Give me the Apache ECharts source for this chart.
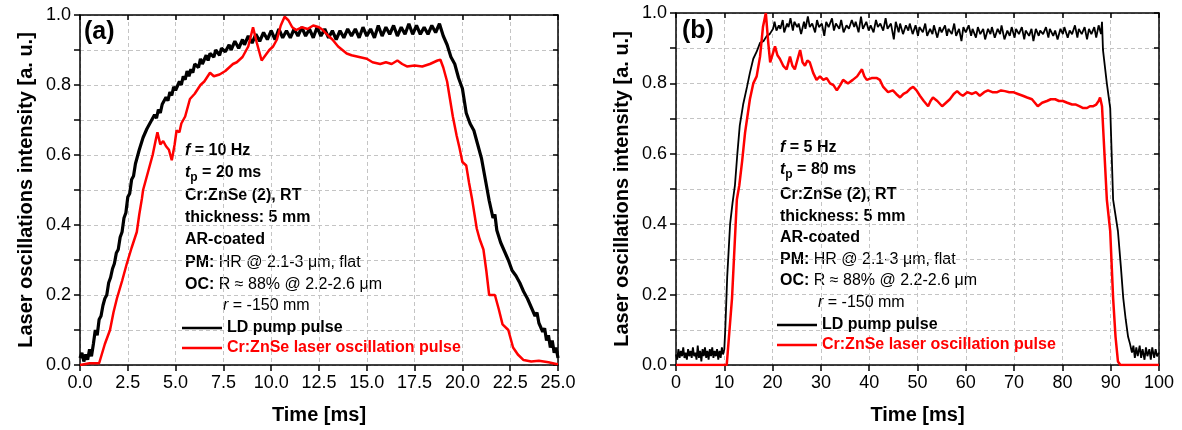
<!DOCTYPE html>
<html>
<head>
<meta charset="utf-8">
<title>Laser oscillation pulses</title>
<script src="https://cdn.jsdelivr.net/npm/echarts@6/dist/echarts.min.js"></script>
<style>
  html, body { margin: 0; padding: 0; background: #fff; }
  #chart { width: 1182px; height: 430px; }
</style>
</head>
<body>
<div id="chart"></div>
<script>
// ---- data: [time ms, intensity a.u.] ----
// (a) f = 10 Hz, tp = 20 ms
const pumpA = [
  [0, 0.02], [0.1, 0.035], [0.2, 0.01], [0.3, 0.03], [0.4, 0.015], [0.5, 0.045], [0.6, 0.025], [0.7, 0.06],
  [0.8, 0.1], [0.9, 0.085], [1.0, 0.13], [1.1, 0.14], [1.2, 0.17], [1.3, 0.19], [1.4, 0.2], [1.5, 0.235],
  [1.6, 0.25], [1.7, 0.275], [1.8, 0.29], [1.9, 0.32], [2.0, 0.33], [2.1, 0.365], [2.2, 0.38], [2.3, 0.42],
  [2.4, 0.435], [2.5, 0.48], [2.6, 0.49], [2.7, 0.53], [2.8, 0.54], [2.9, 0.575], [3.0, 0.58], [3.1, 0.615],
  [3.2, 0.62], [3.3, 0.65], [3.4, 0.645], [3.5, 0.675], [3.6, 0.67], [3.7, 0.695], [3.8, 0.69], [3.9, 0.715],
  [4.0, 0.705], [4.1, 0.73], [4.2, 0.72], [4.3, 0.745], [4.4, 0.74], [4.5, 0.765], [4.6, 0.755], [4.7, 0.78],
  [4.8, 0.77], [4.9, 0.795], [5.0, 0.785], [5.2, 0.81], [5.3, 0.8], [5.4, 0.825], [5.5, 0.815], [5.6, 0.84],
  [5.7, 0.825], [5.8, 0.845], [5.9, 0.835], [6.0, 0.86], [6.2, 0.85], [6.3, 0.875], [6.4, 0.86], [6.6, 0.885],
  [6.7, 0.87], [6.8, 0.89], [7.0, 0.88], [7.1, 0.9], [7.3, 0.885], [7.4, 0.905], [7.6, 0.895], [7.8, 0.915],
  [7.9, 0.9], [8.1, 0.925], [8.3, 0.905], [8.5, 0.93], [8.6, 0.915], [8.8, 0.94], [9.0, 0.92], [9.2, 0.945],
  [9.4, 0.925], [9.6, 0.95], [9.8, 0.93], [10.0, 0.955], [10.2, 0.93], [10.4, 0.96], [10.6, 0.935], [10.8, 0.955],
  [11.0, 0.935], [11.2, 0.96], [11.4, 0.94], [11.6, 0.965], [11.8, 0.94], [12.0, 0.96], [12.2, 0.935], [12.4, 0.965],
  [12.6, 0.94], [12.8, 0.96], [13.0, 0.935], [13.2, 0.955], [13.4, 0.93], [13.6, 0.955], [13.8, 0.935], [14.0, 0.96],
  [14.2, 0.94], [14.4, 0.96], [14.6, 0.935], [14.8, 0.965], [15.0, 0.94], [15.2, 0.96], [15.4, 0.935], [15.6, 0.97],
  [15.8, 0.94], [16.0, 0.965], [16.2, 0.945], [16.4, 0.97], [16.6, 0.94], [16.8, 0.965], [17.0, 0.945], [17.2, 0.975],
  [17.4, 0.945], [17.6, 0.97], [17.8, 0.945], [18.0, 0.965], [18.2, 0.945], [18.4, 0.97], [18.6, 0.95], [18.8, 0.975],
  [19.0, 0.94], [19.2, 0.915], [19.4, 0.88], [19.6, 0.86], [19.8, 0.82], [20.0, 0.79], [20.2, 0.72], [20.4, 0.69],
  [20.6, 0.67], [20.8, 0.63], [21.0, 0.59], [21.2, 0.53], [21.4, 0.47], [21.6, 0.42], [21.7, 0.43], [21.8, 0.385],
  [22.0, 0.35], [22.1, 0.355], [22.2, 0.325], [22.4, 0.3], [22.5, 0.305], [22.6, 0.27], [22.8, 0.255], [23.0, 0.235],
  [23.1, 0.24], [23.2, 0.21], [23.4, 0.19], [23.5, 0.195], [23.6, 0.165], [23.8, 0.14], [23.9, 0.15], [24.0, 0.12],
  [24.2, 0.095], [24.3, 0.105], [24.4, 0.07], [24.5, 0.085], [24.6, 0.05], [24.7, 0.07], [24.8, 0.035], [24.9, 0.05],
  [25.0, 0.02]
];
const laserA = [
  [0, 0], [0.5, 0.005], [1.0, 0.005], [1.05, 0.01], [1.3, 0.06], [1.57, 0.1], [1.75, 0.15], [1.93, 0.19],
  [2.2, 0.24], [2.45, 0.29], [2.7, 0.335], [2.97, 0.38], [3.1, 0.43], [3.24, 0.476], [3.3, 0.5], [3.55, 0.55],
  [3.8, 0.6], [3.95, 0.64], [4.05, 0.665], [4.2, 0.63], [4.35, 0.64], [4.5, 0.625], [4.65, 0.615], [4.8, 0.585],
  [4.95, 0.63], [5.05, 0.67], [5.2, 0.665], [5.3, 0.69], [5.5, 0.71], [5.75, 0.76], [6.0, 0.775], [6.3, 0.8],
  [6.5, 0.81], [6.8, 0.835], [7.0, 0.825], [7.3, 0.83], [7.6, 0.84], [8.0, 0.86], [8.2, 0.865], [8.5, 0.88],
  [8.8, 0.91], [9.05, 0.965], [9.25, 0.92], [9.5, 0.87], [9.7, 0.885], [9.9, 0.9], [10.1, 0.91], [10.3, 0.93],
  [10.5, 0.97], [10.7, 0.995], [10.9, 0.985], [11.1, 0.965], [11.3, 0.957], [11.6, 0.965], [11.9, 0.96], [12.2, 0.97],
  [12.5, 0.965], [12.7, 0.957], [13.0, 0.94], [13.2, 0.93], [13.5, 0.91], [13.95, 0.89], [14.2, 0.885], [14.6, 0.88],
  [15.0, 0.875], [15.3, 0.865], [15.7, 0.86], [16.0, 0.865], [16.3, 0.86], [16.6, 0.87], [16.85, 0.86], [17.1, 0.853],
  [17.5, 0.856], [17.9, 0.853], [18.3, 0.86], [18.7, 0.87], [18.85, 0.872], [19.0, 0.85], [19.2, 0.81], [19.35, 0.76],
  [19.5, 0.71], [19.7, 0.655], [19.85, 0.62], [20.0, 0.58], [20.2, 0.57], [20.35, 0.52], [20.5, 0.476], [20.75, 0.39],
  [20.9, 0.36], [21.1, 0.33], [21.25, 0.27], [21.4, 0.2], [21.7, 0.2], [21.9, 0.16], [22.1, 0.116], [22.4, 0.1],
  [22.65, 0.05], [22.9, 0.03], [23.2, 0.014], [23.6, 0.01], [24.0, 0.012], [24.5, 0.008], [24.9, 0.003], [25, 0.003]
];

// (b) f = 5 Hz, tp = 80 ms
const pumpB = [
  [0, 0.03], [0.25, 0.015], [0.5, 0.045], [0.75, 0.02], [1.0, 0.04], [1.25, 0.025], [1.5, 0.05], [1.75, 0.02],
  [2.0, 0.035], [2.25, 0.015], [2.5, 0.045], [2.75, 0.025], [3.0, 0.04], [3.25, 0.02], [3.5, 0.05], [3.75, 0.025],
  [4.0, 0.035], [4.25, 0.015], [4.5, 0.055], [4.75, 0.02], [5.0, 0.04], [5.25, 0.01], [5.5, 0.045], [5.75, 0.025],
  [6.0, 0.05], [6.25, 0.02], [6.5, 0.04], [6.75, 0.015], [7.0, 0.045], [7.25, 0.025], [7.5, 0.05], [7.75, 0.02],
  [8.0, 0.04], [8.25, 0.025], [8.5, 0.045], [8.75, 0.015], [9.0, 0.04], [9.25, 0.02], [9.5, 0.05], [9.75, 0.03],
  [10.0, 0.045], [10.2, 0.1], [10.6, 0.25], [11.2, 0.4], [11.7, 0.46], [12.2, 0.51], [12.7, 0.6], [13.2, 0.68],
  [13.9, 0.74], [14.7, 0.79], [15.3, 0.83], [16.0, 0.87], [16.7, 0.89], [17.4, 0.915], [18.1, 0.92], [18.8, 0.935],
  [19.4, 0.94], [20.1, 0.955], [20.4, 0.975], [20.8, 0.95], [21.3, 0.965], [21.6, 0.955], [22.1, 0.98], [22.4, 0.945],
  [23, 0.97], [23.3, 0.96], [23.7, 0.985], [24.2, 0.95], [24.5, 0.975], [25.1, 0.96], [25.4, 0.97], [25.9, 0.94],
  [26.5, 0.975], [26.8, 0.955], [27.3, 0.99], [27.7, 0.96], [28.2, 0.97], [28.8, 0.945], [29.2, 0.98], [29.6, 0.96],
  [30.2, 0.97], [30.7, 0.935], [31.1, 0.975], [31.6, 0.96], [32.3, 0.985], [32.7, 0.95], [33.1, 0.97], [33.8, 0.955],
  [34.2, 0.98], [34.7, 0.945], [35.3, 0.965], [35.8, 0.955], [36.4, 0.98], [36.9, 0.96], [37.2, 0.975], [37.8, 0.945],
  [38.3, 0.99], [38.7, 0.955], [39.4, 0.975], [39.9, 0.95], [40.3, 0.965], [40.9, 0.945], [41.4, 0.98], [41.8, 0.96],
  [42.3, 0.97], [42.9, 0.95], [43.4, 0.985], [43.8, 0.955], [44.5, 0.97], [45.1, 0.925], [45.5, 0.975], [46.1, 0.945],
  [46.4, 0.97], [47.0, 0.94], [47.6, 0.965], [48.1, 0.95], [48.4, 0.97], [49.0, 0.94], [49.6, 0.965], [50.1, 0.935],
  [50.4, 0.96], [51.1, 0.945], [51.6, 0.97], [52.0, 0.935], [52.6, 0.955], [53.1, 0.94], [53.4, 0.965], [54.1, 0.93],
  [54.6, 0.96], [55.0, 0.945], [55.7, 0.965], [56.1, 0.935], [56.4, 0.955], [57.1, 0.94], [57.6, 0.97], [58.0, 0.935],
  [58.6, 0.955], [59.1, 0.92], [59.5, 0.96], [60.0, 0.945], [60.6, 0.965], [61.1, 0.935], [61.4, 0.955], [62.1, 0.93],
  [62.5, 0.96], [63.0, 0.94], [63.6, 0.955], [64.0, 0.925], [64.6, 0.955], [65.1, 0.94], [65.4, 0.96], [66.0, 0.93],
  [66.6, 0.955], [67.1, 0.94], [67.4, 0.965], [68.0, 0.925], [68.6, 0.95], [69.1, 0.935], [69.5, 0.96], [70.1, 0.93],
  [70.4, 0.955], [71.0, 0.94], [71.6, 0.96], [72.1, 0.925], [72.4, 0.95], [73.1, 0.935], [73.6, 0.955], [74.0, 0.92],
  [74.5, 0.955], [75.1, 0.935], [75.4, 0.95], [76.0, 0.94], [76.6, 0.96], [77.1, 0.93], [77.4, 0.955], [78.1, 0.935],
  [78.5, 0.95], [79.0, 0.925], [79.6, 0.955], [80.1, 0.94], [80.4, 0.96], [81.1, 0.93], [81.5, 0.95], [82.0, 0.94],
  [82.6, 0.965], [83.1, 0.93], [83.4, 0.955], [84.0, 0.94], [84.6, 0.96], [85.1, 0.925], [85.5, 0.955], [86.0, 0.94],
  [86.6, 0.96], [87.0, 0.93], [87.5, 0.965], [88, 0.94], [88.2, 0.975], [88.4, 0.895], [89.2, 0.8], [89.9, 0.73],
  [90.5, 0.47], [91.5, 0.38], [92.1, 0.28], [92.6, 0.19], [93.1, 0.13], [93.6, 0.08], [94.0, 0.06], [94.4, 0.035],
  [94.7, 0.055], [95, 0.02], [95.3, 0.05], [95.6, 0.025], [96, 0.055], [96.3, 0.02], [96.6, 0.045], [97, 0.015],
  [97.3, 0.05], [97.6, 0.025], [98, 0.045], [98.3, 0.015], [98.6, 0.05], [99, 0.02], [99.3, 0.045], [99.6, 0.025],
  [100, 0.035]
];
const laserB = [
  [0, 0], [10.5, 0], [11.6, 0.19], [12.6, 0.47], [13.1, 0.51], [13.7, 0.58], [14.3, 0.66], [15.3, 0.755],
  [16.0, 0.8], [16.7, 0.82], [17.4, 0.876], [18.0, 0.96], [18.6, 1.0], [19.1, 0.915], [19.5, 0.86], [19.9, 0.86],
  [20.5, 0.905], [21.0, 0.88], [21.5, 0.87], [22.2, 0.85], [22.9, 0.84], [23.6, 0.876], [24.1, 0.85], [24.6, 0.84],
  [25.2, 0.87], [25.7, 0.895], [26.2, 0.86], [26.7, 0.85], [27.2, 0.865], [27.7, 0.86], [28.4, 0.83], [29.1, 0.81],
  [29.8, 0.82], [30.5, 0.81], [31.2, 0.815], [31.9, 0.8], [32.6, 0.795], [33.3, 0.78], [34.0, 0.795], [34.6, 0.81],
  [35.6, 0.8], [36.6, 0.81], [37.5, 0.82], [38.5, 0.84], [39.0, 0.82], [39.5, 0.81], [40.5, 0.815], [41.6, 0.815],
  [42.2, 0.81], [42.9, 0.79], [43.3, 0.79], [43.9, 0.775], [44.9, 0.78], [45.6, 0.77], [46.4, 0.76], [47.1, 0.77],
  [47.8, 0.775], [48.5, 0.785], [49.1, 0.79], [49.8, 0.78], [50.5, 0.765], [51.3, 0.75], [52.2, 0.735], [52.7, 0.75],
  [53.2, 0.76], [54.1, 0.75], [55.1, 0.735], [55.9, 0.745], [56.7, 0.755], [57.5, 0.77], [58.2, 0.778], [58.8, 0.77],
  [59.4, 0.765], [60.3, 0.775], [61.3, 0.77], [62.1, 0.775], [62.9, 0.765], [63.8, 0.775], [64.6, 0.78], [65.5, 0.775],
  [66.5, 0.775], [67.3, 0.78], [68.1, 0.778], [69.0, 0.775], [69.8, 0.775], [70.8, 0.77], [71.8, 0.765], [72.7, 0.76],
  [73.7, 0.755], [74.3, 0.745], [74.9, 0.735], [75.8, 0.745], [76.8, 0.75], [77.6, 0.755], [78.5, 0.755], [79.3, 0.75],
  [80.1, 0.75], [81.0, 0.745], [82.0, 0.74], [82.8, 0.74], [83.6, 0.735], [84.3, 0.73], [85.1, 0.73], [85.7, 0.735],
  [86.3, 0.735], [87.0, 0.74], [87.5, 0.75], [87.8, 0.76], [88.2, 0.735], [89.2, 0.47], [89.9, 0.38], [90.5, 0.19],
  [91.0, 0.08], [91.5, 0.01], [92, 0], [100, 0]
];

const seriesNames = ["LD pump pulse", "Cr:ZnSe laser oscillation pulse"];

// ---- chart ----
const FONT = "'Liberation Sans', Arial, sans-serif";
const chart = echarts.init(document.getElementById("chart"));

const axisLine = { onZero: false, lineStyle: { color: "#000", width: 1.5 } };
const tickStyle = { color: "#000", width: 1.5 };
const gridLine = { show: true, lineStyle: { color: "#c4c4c4", width: 1, type: [4, 3] } };

// bottom x axis with labels
const xBottom = (gridIndex, max, interval, digits) => ({
  type: "value",
  gridIndex,
  min: 0,
  max,
  interval,
  axisLine,
  axisTick: { inside: false, length: 6, lineStyle: tickStyle },
  axisLabel: {
    color: "#000",
    fontSize: 18,
    fontFamily: FONT,
    margin: 9,
    formatter: (v) => v.toFixed(digits),
  },
  splitLine: gridLine,
  name: "Time [ms]",
  nameLocation: "middle",
  nameGap: 40,
  nameTextStyle: { color: "#000", fontSize: 20, fontWeight: "bold", fontFamily: FONT },
});
// top x axis (frame only)
const xTop = (gridIndex, max, interval) => ({
  type: "value",
  gridIndex,
  position: "top",
  min: 0,
  max,
  interval,
  axisLine,
  axisTick: { inside: true, length: 5, lineStyle: tickStyle },
  axisLabel: { show: false },
  splitLine: { show: false },
});
// left y axis, ticks every 0.1, labels every 0.2
const yLeft = (gridIndex) => ({
  type: "value",
  gridIndex,
  min: 0,
  max: 1,
  interval: 0.1,
  axisLine,
  axisTick: { inside: false, length: 6, lineStyle: tickStyle },
  axisLabel: {
    color: "#000",
    fontSize: 18,
    fontFamily: FONT,
    margin: 9,
    formatter: (v) => (Math.round(v * 10) % 2 === 0 ? v.toFixed(1) : ""),
  },
  splitLine: gridLine,
  name: "Laser oscillations intensity [a. u.]",
  nameLocation: "middle",
  nameGap: 44,
  nameTextStyle: { color: "#000", fontSize: 20, fontWeight: "bold", fontFamily: FONT },
});
const yRight = (gridIndex) => ({
  type: "value",
  gridIndex,
  position: "right",
  min: 0,
  max: 1,
  interval: 0.1,
  axisLine,
  axisTick: { inside: true, length: 5, lineStyle: tickStyle },
  axisLabel: { show: false },
  splitLine: { show: false },
});

const lineSeries = (name, data, idx, color, width) => ({
  name,
  type: "line",
  data,
  xAxisIndex: idx,
  yAxisIndex: idx,
  showSymbol: false,
  symbol: "none",
  lineStyle: { color, width },
  itemStyle: { color },
  emphasis: { disabled: true },
});

// text block inside each panel
const richStyles = {
  b: { fontSize: 16, fontWeight: "bold", fontFamily: FONT, fill: "#000" },
  n: { fontSize: 16, fontWeight: "normal", fontFamily: FONT, fill: "#000" },
  bi: { fontSize: 16, fontWeight: "bold", fontStyle: "italic", fontFamily: FONT, fill: "#000" },
  i: { fontSize: 16, fontStyle: "italic", fontFamily: FONT, fill: "#000" },
  sub: { fontSize: 12, fontWeight: "bold", fontFamily: FONT, fill: "#000", padding: [9, 0, 0, 0] },
};
const noteLine = (x, y, text) => ({
  type: "text",
  x,
  y,
  silent: true,
  style: { text, rich: richStyles, verticalAlign: "middle", font: "bold 16px " + FONT, fill: "#000" },
});
const notes = (x0, ys, f, tp) => [
  noteLine(x0, ys[0], "{bi|f}{b| = " + f + "}"),
  noteLine(x0, ys[1], "{bi|t}{sub|p}{b| = " + tp + "}"),
  noteLine(x0, ys[2], "{b|Cr:ZnSe (2), RT}"),
  noteLine(x0, ys[3], "{b|thickness: 5 mm}"),
  noteLine(x0, ys[4], "{b|AR-coated}"),
  noteLine(x0, ys[5], "{b|PM:}{n| HR @ 2.1-3 μm, flat}"),
  noteLine(x0, ys[6], "{b|OC:}{n| R ≈ 88% @ 2.2-2.6 μm}"),
  noteLine(x0 + 38, ys[7], "{i|r}{n| = -150 mm}"),
];

const legendFor = (left, top) => ({
  left,
  top,
  orient: "vertical",
  padding: 0,
  itemGap: 4,
  itemWidth: 40,
  itemHeight: 2.5,
  icon: "rect",
  selectedMode: false,
  textStyle: { fontSize: 16, fontWeight: "bold", fontFamily: FONT, color: "#000" },
  data: [
    { name: seriesNames[0], textStyle: { color: "#000" } },
    { name: seriesNames[1], textStyle: { color: "#ff0000" } },
  ],
});

chart.setOption({
  animation: false,
  backgroundColor: "#fff",
  textStyle: { fontFamily: FONT },
  grid: [
    { left: 80, top: 15, width: 478, height: 353 },
    { left: 676, top: 13, width: 483, height: 355 },
  ],
  xAxis: [xBottom(0, 25, 2.5, 1), xTop(0, 25, 2.5), xBottom(1, 100, 10, 0), xTop(1, 100, 10)],
  yAxis: [yLeft(0), yRight(0), yLeft(1), yRight(1)],
  legend: [legendFor(182, 320), legendFor(777, 317)],
  series: [
    lineSeries(seriesNames[0], pumpA, 0, "#000", 3.2),
    lineSeries(seriesNames[1], laserA, 0, "#ff0000", 2.5),
    lineSeries(seriesNames[0], pumpB, 2, "#000", 1.8),
    lineSeries(seriesNames[1], laserB, 2, "#ff0000", 2.5),
  ],
  graphic: [
    { type: "text", x: 84, y: 20, silent: true, style: { text: "(a)", font: "bold 25px " + FONT, fill: "#000" } },
    { type: "text", x: 682, y: 19, silent: true, style: { text: "(b)", font: "bold 25px " + FONT, fill: "#000" } },
    ...notes(185, [151, 173, 196, 218, 240, 263, 285, 306], "10 Hz", "20 ms"),
    ...notes(780, [148, 170, 195, 217, 238, 260, 281, 303], "5 Hz", "80 ms"),
  ],
});
</script>
</body>
</html>
